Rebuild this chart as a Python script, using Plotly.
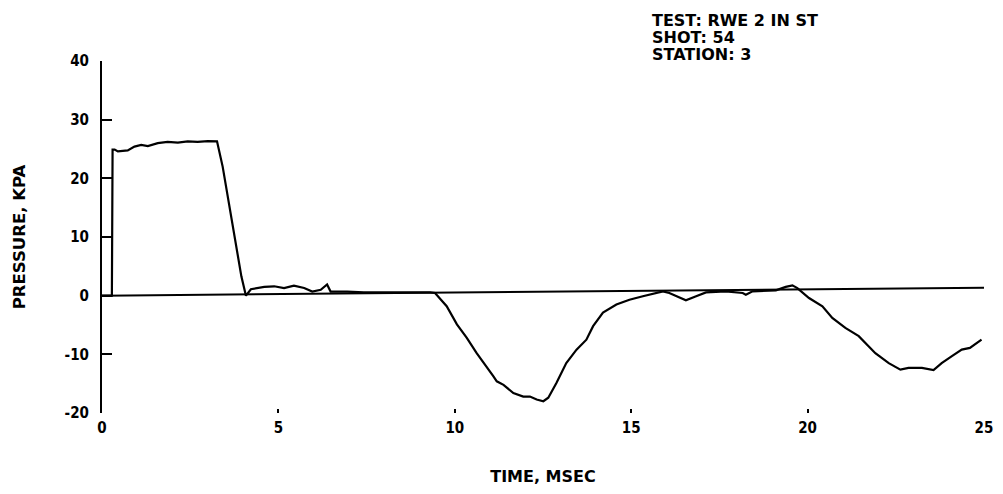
import plotly.graph_objects as go

# Pressure trace (time in ms, pressure in kPa)
time_ms = [0.0, 0.28, 0.30, 0.36, 0.45, 0.73, 0.92, 1.11, 1.30, 1.58, 1.86, 2.15, 2.43, 2.71, 3.00, 3.26,
           3.42, 3.56, 3.70, 3.84, 3.95, 4.08,
           4.22, 4.60, 4.88, 5.16, 5.44, 5.73, 5.96, 6.20, 6.38, 6.48, 6.95, 7.42, 8.36, 9.30,
           9.44, 9.77, 10.06, 10.34, 10.62, 10.90, 11.09, 11.19, 11.38, 11.66, 11.94, 12.13, 12.32, 12.51,
           12.65, 12.88, 13.16, 13.45, 13.73, 13.92, 14.20, 14.58, 14.95, 15.33, 15.71, 15.90, 16.08, 16.27,
           16.55, 16.84, 17.12, 17.68, 18.16, 18.25, 18.44, 19.10, 19.38, 19.57, 19.71, 20.04, 20.42, 20.70,
           21.07, 21.45, 21.92, 22.30, 22.63, 22.86, 23.24, 23.57, 23.80, 24.09, 24.37, 24.60, 24.93]
pressure_kpa = [0.0, 0.0, 24.9, 24.9, 24.6, 24.75, 25.4, 25.7, 25.5, 26.0, 26.2, 26.1, 26.3, 26.2, 26.35, 26.3,
                22.0, 16.9, 11.8, 7.3, 3.3, 0.0,
                1.1, 1.5, 1.6, 1.3, 1.7, 1.3, 0.7, 1.0, 1.9, 0.7, 0.7, 0.56, 0.6, 0.56,
                0.46, -1.8, -4.9, -7.2, -9.8, -12.0, -13.7, -14.6, -15.2, -16.6, -17.2, -17.2, -17.7, -18.0,
                -17.4, -14.9, -11.5, -9.2, -7.5, -5.2, -2.9, -1.5, -0.7, -0.1, 0.46, 0.73, 0.46, -0.1,
                -0.8, -0.1, 0.56, 0.73, 0.46, 0.17, 0.73, 0.9, 1.5, 1.75, 1.3, -0.4, -1.8, -3.8,
                -5.5, -6.9, -9.8, -11.5, -12.6, -12.3, -12.3, -12.7, -11.5, -10.3, -9.2, -8.9, -7.5]

# Reference (zero) line drawn by the recorder
baseline_time = [0.0, 25.0]
baseline_kpa = [0.0, 1.35]

x_ticks = [0, 5, 10, 15, 20, 25]
y_ticks = [-20, -10, 0, 10, 20, 30, 40]
y_tick_text = ["-20", "-10", "0", "10", "20", "30", "40"]

info_lines = ["TEST: RWE 2 IN ST", "SHOT: 54", "STATION: 3"]

OFF = 8  # default page body margin
W, H = 1003 - OFF, 494 - 2 * OFF
L = 102 - OFF
T = 61 - OFF
R = W - (984 - OFF)
B = H - (413 - OFF)
plot_w = W - L - R
plot_h = H - T - B

tick_font = dict(family="DejaVu Sans Condensed, DejaVu Sans, sans-serif", size=15, color="black", weight="bold")
info_font = dict(family="DejaVu Sans, sans-serif", size=16, color="black", weight="bold")
xtitle_font = dict(family="DejaVu Sans, sans-serif", size=16, color="black", weight="bold")
ytitle_font = dict(family="DejaVu Sans, sans-serif", size=16.5, color="black", weight="bold")

fig = go.Figure()
fig.add_trace(go.Scatter(x=baseline_time, y=baseline_kpa, mode="lines",
                         line=dict(color="black", width=2), showlegend=False, hoverinfo="skip"))
fig.add_trace(go.Scatter(x=time_ms, y=pressure_kpa, mode="lines",
                         line=dict(color="black", width=2.2), showlegend=False))

annotations = []
for i, line in enumerate(info_lines):
    y_px = 20 - OFF + i * 17.5
    annotations.append(dict(text=line, xref="paper", yref="paper",
                            x=(650 - OFF - L) / plot_w, y=1 + (T - y_px) / plot_h,
                            xanchor="left", yanchor="middle", align="left", showarrow=False,
                            font=info_font))

fig.update_layout(
    width=W, height=H,
    margin=dict(l=L, r=R, t=T, b=B, autoexpand=False),
    paper_bgcolor="white", plot_bgcolor="white",
    font=tick_font,
    xaxis=dict(range=[0, 25], tickvals=x_ticks, ticks="inside", ticklen=4, tickwidth=2,
               tickcolor="black", showline=False, showgrid=False, zeroline=False, automargin=False,
               ticklabelstandoff=4,
               title=dict(text="TIME, MSEC", standoff=36, font=xtitle_font),
               tickfont=tick_font),
    yaxis=dict(range=[-20, 40], tickvals=y_ticks, ticktext=y_tick_text, ticks="inside", ticklen=10,
               tickwidth=2, tickcolor="black", showline=True, linewidth=2, linecolor="black",
               showgrid=False, zeroline=False, ticklabelstandoff=8, automargin=False,
               title=dict(text="PRESSURE, KPA", standoff=35, font=ytitle_font),
               tickfont=tick_font),
    annotations=annotations,
)

fig.write_html("out.html")
